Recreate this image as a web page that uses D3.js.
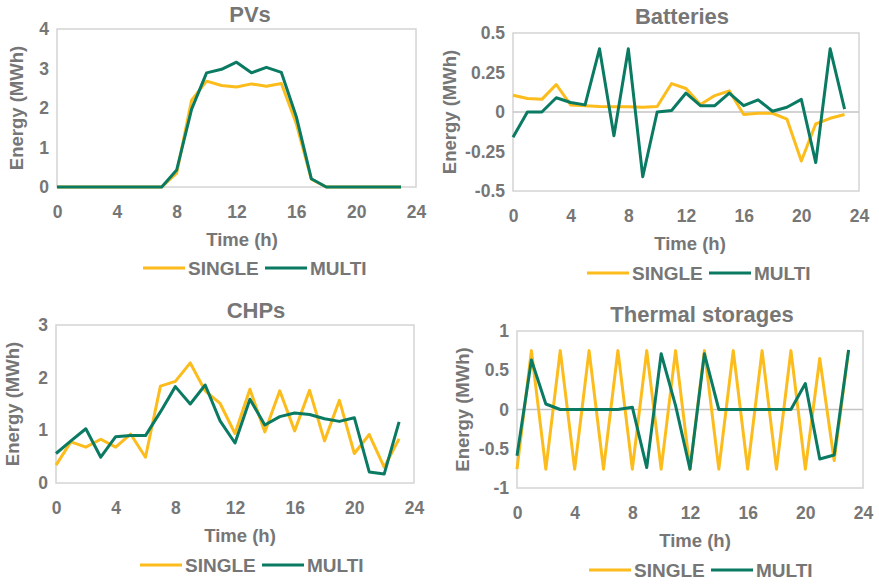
<!DOCTYPE html>
<html>
<head>
<meta charset="utf-8">
<script src="https://cdn.jsdelivr.net/npm/d3@7"></script>
<style>
  body { margin: 0; background: #fff; }
  text { font-family: "Liberation Sans", Arial, sans-serif; font-weight: bold; fill: #767676; }
</style>
</head>
<body>
<script>
// hours 0..23
var hours = [0,1,2,3,4,5,6,7,8,9,10,11,12,13,14,15,16,17,18,19,20,21,22,23];
var xTicks = [0, 4, 8, 12, 16, 20, 24];
var seriesNames = ["SINGLE", "MULTI"];

// PVs
var pvSingle = [0,0,0,0,0,0,0,0,0.35,2.2,2.68,2.57,2.53,2.61,2.55,2.62,1.6,0.2,0,0,0,0,0,0];
var pvMulti = [0,0,0,0,0,0,0,0,0.43,1.97,2.89,2.98,3.16,2.89,3.03,2.9,1.78,0.21,0,0,0,0,0,0];
var pvTicks = [0, 1, 2, 3, 4];

// Batteries
var batSingle = [0.106,0.085,0.08,0.174,0.045,0.04,0.035,0.033,0.033,0.03,0.035,0.18,0.149,0.047,0.104,0.134,-0.016,-0.008,-0.008,-0.045,-0.31,-0.075,-0.04,-0.016];
var batMulti = [-0.16,0,0,0.09,0.06,0.045,0.4,-0.15,0.4,-0.41,0,0.01,0.12,0.04,0.04,0.12,0.04,0.077,0.005,0.03,0.08,-0.32,0.4,0.018];
var batTicks = [-0.5, -0.25, 0, 0.25, 0.5];

// CHPs
var chpSingle = [0.34,0.78,0.68,0.83,0.68,0.93,0.49,1.84,1.93,2.28,1.75,1.51,0.94,1.78,0.97,1.75,0.99,1.76,0.8,1.57,0.56,0.92,0.3,0.84];
var chpMulti = [0.56,0.8,1.03,0.49,0.88,0.9,0.9,1.35,1.83,1.5,1.86,1.18,0.76,1.59,1.1,1.26,1.33,1.3,1.22,1.17,1.24,0.21,0.17,1.16];
var chpTicks = [0, 1, 2, 3];

// Thermal storages
var thSingle = [-0.76,0.75,-0.76,0.75,-0.76,0.75,-0.76,0.75,-0.76,0.75,-0.76,0.75,-0.76,0.75,-0.76,0.75,-0.76,0.75,-0.76,0.75,-0.76,0.65,-0.65,0.75];
var thMulti = [-0.59,0.63,0.07,0,0,0,0,0,0.03,-0.74,0.71,0.05,-0.76,0.71,0,0,0,0,0,0,0.33,-0.63,-0.58,0.76];
var thTicks = [-1, -0.5, 0, 0.5, 1];

var colors = ["#fbbc1c", "#0a7a63"];

var svg = d3.select("body")
    .append("svg")
    .attr("width", 879)
    .attr("height", 584);

function drawPanel(p) {
    var g = svg.append("g");

    var x = d3.scaleLinear().domain([0, 24]).range([p.left, p.right]);
    var y = d3.scaleLinear().domain([p.ticks[0], p.ticks[p.ticks.length - 1]]).range([p.bottom, p.top]);

    // plot frame
    g.append("rect")
        .attr("x", p.left)
        .attr("y", p.top)
        .attr("width", p.right - p.left)
        .attr("height", p.bottom - p.top)
        .attr("fill", "none")
        .attr("stroke", "#d4d4d4")
        .attr("stroke-width", 1.5);

    // zero line
    if (p.ticks[0] < 0) {
        g.append("line")
            .attr("x1", p.left).attr("x2", p.right)
            .attr("y1", y(0)).attr("y2", y(0))
            .attr("stroke", "#c4c4c4")
            .attr("stroke-width", 1.5);
    }

    // y axis
    var yAxis = g.append("g")
        .attr("transform", "translate(" + (p.left - 8) + ",0)")
        .call(d3.axisLeft(y).tickValues(p.ticks).tickSize(0).tickFormat(function(d) { return String(d); }));
    yAxis.select(".domain").remove();
    yAxis.selectAll("text")
        .attr("x", 0)
        .attr("font-size", 17.5)
        .attr("fill", "#767676")
        .style("font-family", null);

    // x axis
    var xAxis = g.append("g")
        .attr("transform", "translate(0," + p.bottom + ")")
        .call(d3.axisBottom(x).tickValues(xTicks).tickSize(0));
    xAxis.select(".domain").remove();
    xAxis.selectAll("text")
        .attr("y", 19)
        .attr("font-size", 17.5)
        .attr("fill", "#767676")
        .style("font-family", null);

    // title
    g.append("text")
        .attr("x", p.titleX)
        .attr("y", p.titleY)
        .attr("text-anchor", "middle")
        .attr("font-size", 22)
        .text(p.title);

    // axis titles
    g.append("text")
        .attr("x", p.xTitleX)
        .attr("y", p.bottom + 59)
        .attr("text-anchor", "middle")
        .attr("font-size", 18.5)
        .text("Time (h)");

    g.append("text")
        .attr("transform", "translate(" + p.yTitleX + "," + ((p.top + p.bottom) / 2) + ") rotate(-90)")
        .attr("text-anchor", "middle")
        .attr("dy", "0.35em")
        .attr("font-size", 18.5)
        .text("Energy (MWh)");

    // lines
    var line = d3.line()
        .x(function(d, i) { return x(hours[i]); })
        .y(function(d) { return y(d); });

    [p.single, p.multi].forEach(function(s, k) {
        g.append("path")
            .datum(s)
            .attr("d", line)
            .attr("fill", "none")
            .attr("stroke", colors[k])
            .attr("stroke-width", 3)
            .attr("stroke-linejoin", "round");
    });

    // legend
    var leg = g.append("g")
        .attr("transform", "translate(" + p.legX + "," + p.legY + ")");
    var offsets = [0, 122];
    seriesNames.forEach(function(name, k) {
        leg.append("line")
            .attr("x1", offsets[k]).attr("x2", offsets[k] + 42)
            .attr("y1", 0).attr("y2", 0)
            .attr("stroke", colors[k])
            .attr("stroke-width", 3);
        leg.append("text")
            .attr("x", offsets[k] + 45)
            .attr("dy", "0.36em")
            .attr("font-size", 19)
            .text(name);
    });
}

drawPanel({ title: "PVs", single: pvSingle, multi: pvMulti, ticks: pvTicks,
    left: 57, right: 416, top: 29, bottom: 187,
    titleX: 250, titleY: 22, xTitleX: 242, yTitleX: 17, legX: 143, legY: 268 });

drawPanel({ title: "Batteries", single: batSingle, multi: batMulti, ticks: batTicks,
    left: 513, right: 859, top: 33, bottom: 191,
    titleX: 682, titleY: 24, xTitleX: 690, yTitleX: 450, legX: 587, legY: 273 });

drawPanel({ title: "CHPs", single: chpSingle, multi: chpMulti, ticks: chpTicks,
    left: 56, right: 414, top: 325, bottom: 483,
    titleX: 256, titleY: 318, xTitleX: 240, yTitleX: 13, legX: 140, legY: 565 });

drawPanel({ title: "Thermal storages", single: thSingle, multi: thMulti, ticks: thTicks,
    left: 517, right: 863, top: 331, bottom: 488,
    titleX: 702, titleY: 322, xTitleX: 695, yTitleX: 463, legX: 589, legY: 570 });
</script>
</body>
</html>
